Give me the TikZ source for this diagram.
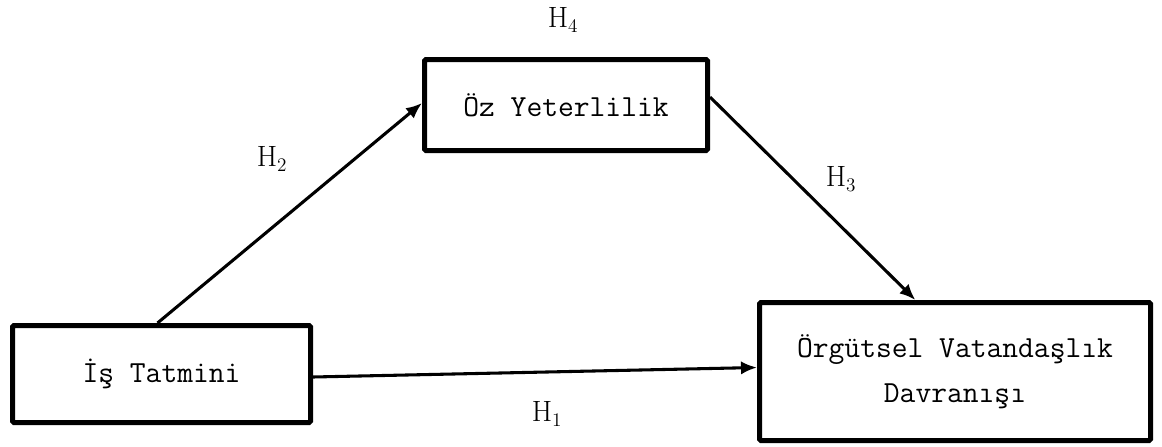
\documentclass[tikz,border=0pt]{standalone}
\usepackage{fontspec}
\usetikzlibrary{arrows.meta,calc}

\begin{document}
\begin{tikzpicture}[x=0.75pt, y=-0.75pt, every node/.style={inner sep=0pt},
		var/.style={draw, line width=3.75pt, rounded corners=1pt, align=center, font=\ttfamily\fontsize{23}{34}\selectfont},
		link/.style={line width=2.3pt, -{Latex[length=12pt,width=10pt]}},
		hyp/.style={font=\fontsize{22}{24}\selectfont}]
	\useasboundingbox (0,0) rectangle (1162,446);
	% the three variables
	\node[var, minimum width=223.5pt, minimum height=72.75pt] (is) at (161.5,374) {İş Tatmini};
	\node[var, minimum width=212.25pt, minimum height=68.25pt] (oz) at (566,105) {Öz Yeterlilik};
	\node[var, minimum width=293.25pt, minimum height=103.5pt] (org) at (955,371.5) {Örgütsel Vatandaşlık\\Davranışı};
	% hypotheses
	\draw[link] ($(is.north)+(-4,0)$) -- ($(oz.west)+(0,-2)$);
	\draw[link] ($(oz.east)+(0,-8)$) -- ($(org.north west)!0.4!(org.north east)$);
	\draw[link] ($(is.east)+(0,3)$) -- ($(org.west)+(0,-4)$);
	\node[hyp] (h4) at (563,20) {$\mathrm{H}_4$};
	\node[hyp] (h2) at (272,159) {$\mathrm{H}_2$};
	\node[hyp] (h3) at (841,179) {$\mathrm{H}_3$};
	\node[hyp] (h1) at (547,414) {$\mathrm{H}_1$};
\end{tikzpicture}
\end{document}
